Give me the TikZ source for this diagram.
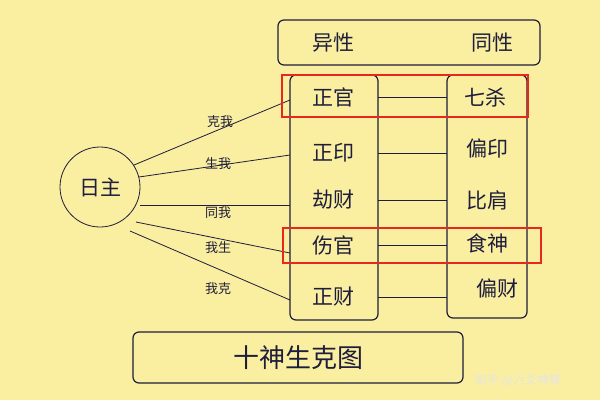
\documentclass[tikz,border=0pt]{standalone}
\usepackage{fontspec}
\setmainfont{Noto Sans CJK SC}
\usetikzlibrary{positioning}
\definecolor{bgyellow}{RGB}{250,238,160}
\definecolor{inkblue}{RGB}{30,30,60}
\definecolor{markred}{RGB}{230,40,30}
\tikzstyle{frame} = [draw=inkblue, line width=1.2pt, rounded corners=6pt]
\tikzstyle{item} = [font=\fontsize{21}{21}\selectfont, text=inkblue]
\tikzstyle{rel} = [font=\fontsize{13}{13}\selectfont, text=inkblue]
\tikzstyle{link} = [draw=inkblue, line width=0.8pt]
\begin{document}
\begin{tikzpicture}[x=1pt,y=-1pt]
  \fill[bgyellow] (0,0) rectangle (600,400);
  \useasboundingbox (0,0) rectangle (600,400);

  \draw[frame] (278,20) rectangle (540,65);
  \node[item] (yixing) at (333,43) {异性};
  \node[item] (tongxing) at (492,43) {同性};

  \draw[frame] (290,75) rectangle (378,320);
  \draw[frame] (447,75) rectangle (527,318);

  \node[item] (zhengguan) at (333,97) {正官};
  \node[item] (zhengyin) at (333,153) {正印};
  \node[item] (jiecai) at (333,200) {劫财};
  \node[item] (shangguan) at (333,245) {伤官};
  \node[item] (zhengcai) at (333,297) {正财};

  \node[item] (qisha) at (485,97) {七杀};
  \node[item] (pianyin) at (487,148) {偏印};
  \node[item] (bijian) at (487,200) {比肩};
  \node[item] (shishen) at (487,243) {食神};
  \node[item] (piancai) at (497,288) {偏财};

  \foreach \y in {97,153,200,245,297}
    \draw[link] (378,\y) -- (447,\y);

  \draw[link, fill=bgyellow] (100,187) circle (40);
  \node[item] (rizhu) at (100,187) {日主};

  \coordinate (e1) at (290,100);
  \coordinate (e2) at (290,155);
  \coordinate (e3) at (290,205);
  \coordinate (e4) at (290,253);
  \coordinate (e5) at (290,300);
  \draw[link] (134,165) -- (e1);
  \draw[link] (139,177) -- (e2);
  \draw[link] (140,205) -- (e3);
  \draw[link] (136,222) -- (e4);
  \draw[link] (130,231) -- (e5);

  \node[rel] at (220,122) {克我};
  \node[rel] at (218,164) {生我};
  \node[rel] at (218,213) {同我};
  \node[rel] at (218,248) {我生};
  \node[rel] at (218,289) {我克};

  \draw[markred, line width=1.5pt] (282,75) rectangle (528,117);
  \draw[markred, line width=1.5pt] (283,228) rectangle (541,263);

  \draw[frame] (133,332) rectangle (463,383);
  \node[item, font=\fontsize{26}{26}\selectfont] (title) at (298,358) {十神生克图};
  \node[font=\fontsize{12}{12}\selectfont, text=white!80!gray] (mark) at (518,380) {知乎 @六爻神算};
\end{tikzpicture}
\end{document}
